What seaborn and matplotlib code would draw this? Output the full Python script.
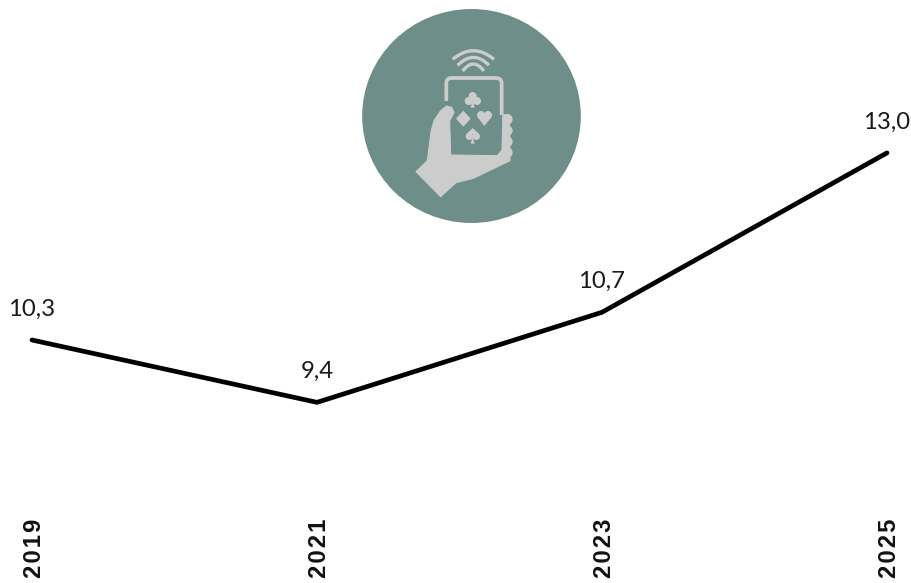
import matplotlib
matplotlib.use("Agg")
import matplotlib.pyplot as plt
from matplotlib.font_manager import FontProperties
from matplotlib.patches import Circle, Ellipse, PathPatch, Polygon
from matplotlib.path import Path
from matplotlib.transforms import ScaledTranslation
import pandas as pd
import seaborn as sns

years = ["2019", "2021", "2023", "2025"]
values = [10.3, 9.4, 10.7, 13.0]
value_labels = ["10,3", "9,4", "10,7", "13,0"]

BADGE = "#6e8e89"
ICON = "#cccccc"

sns.set_theme(style="white")
plt.rcParams["font.family"] = ["Lato", "DejaVu Sans"]

W, H = 912, 583
fig = plt.figure(figsize=(W / 100, H / 100), dpi=100, facecolor="white")

# Plot area spans the first to the last year; year labels hang below it
top_px, bottom_px = 0, 512
ax = fig.add_axes([32 / W, 1 - bottom_px / H, 855 / W, (bottom_px - top_px) / H])

df = pd.DataFrame({"position": range(len(years)), "value": values})
sns.lineplot(data=df, x="position", y="value", color="black", linewidth=3.4,
             ax=ax, legend=False)
for line in ax.get_lines():
    line.set_solid_capstyle("round")
    line.set_solid_joinstyle("round")
    line.set_clip_on(False)

ax.set_xlim(0, len(years) - 1)
px_per_unit = 69.3
ax.set_ylim(10.3 - (bottom_px - 340) / px_per_unit, 10.3 + 340 / px_per_unit)
ax.set_xticks(range(len(years)))
# Hair spaces open up the tracking of the year labels
ax.set_xticklabels(["\u200a".join(y) for y in years], rotation=90)
ax.tick_params(axis="x", length=0, pad=4.5)
nudge = ScaledTranslation(3 / 100, 0, fig.dpi_scale_trans)
year_font = FontProperties(family=["Liberation Sans", "DejaVu Sans"], weight="bold", size=17.2)
for lbl in ax.get_xticklabels():
    lbl.set_fontproperties(year_font)
    lbl.set_color("#111111")
    lbl.set_transform(lbl.get_transform() + nudge)
ax.set_yticks([])
ax.set_xlabel("")
ax.set_ylabel("")
for spine in ax.spines.values():
    spine.set_visible(False)
ax.patch.set_alpha(0)

for i, (v, label) in enumerate(zip(values, value_labels)):
    ax.annotate(label, (i, v), xytext=(0, 14.5), textcoords="offset points",
                ha="center", va="bottom", fontsize=17.2, color="#1a1a1a",
                annotation_clip=False)

# Badge with a hand holding a phone; coordinates are local to this small canvas
icon = fig.add_axes([350 / W, 1 - 230 / H, 240 / W, 230 / H], zorder=3)
icon.set_xlim(0, 720)
icon.set_ylim(690, 0)
icon.axis("off")
icon.add_patch(Ellipse((364.5, 348), 656, 642, fc=BADGE, ec="none"))


def stroke(verts, codes, width):
    icon.add_patch(PathPatch(Path(verts, codes), fc="none", ec=ICON, lw=width,
                             capstyle="butt", joinstyle="round"))


# Signal arcs
for x0, x1, y_end, y_ctrl in [(308, 432, 178, 126), (323, 417, 196, 148), (338, 402, 213, 171)]:
    stroke([(x0, y_end), (370, y_ctrl), (x1, y_end)], [Path.MOVETO, Path.CURVE3, Path.CURVE3], 2.4)

# Phone outline
stroke([(289, 303), (289, 250), (289, 234), (305, 234), (438, 234), (455, 234), (455, 250), (455, 345)],
       [Path.MOVETO, Path.LINETO, Path.CURVE3, Path.CURVE3, Path.LINETO, Path.CURVE3, Path.CURVE3, Path.LINETO],
       2.7)

# Palm and thumb
hand = [(198, 515), (272, 590), (318, 548), (370, 535), (480, 482), (478, 345), (459, 345), (456, 450),
        (442, 467), (302, 465), (299, 362), (312, 338), (305, 322), (290, 318), (272, 332),
        (252, 362), (243, 395), (232, 482)]
icon.add_patch(Polygon(hand, closed=True, fc=ICON, ec=ICON, lw=0.8, joinstyle="round"))

# Fingers curling round the phone's edge
for y in [358, 392, 425, 458]:
    icon.add_patch(Circle((472, y), 16, fc=ICON, ec="none"))

# Club
for c in [(368, 288), (356, 303), (381, 303)]:
    icon.add_patch(Circle(c, 12, fc=ICON, ec="none"))
icon.add_patch(Polygon([(368, 295), (374, 323), (362, 323)], fc=ICON, ec="none"))

# Diamond
icon.add_patch(Polygon([(340, 332), (362, 356), (340, 380), (318, 356)], fc=ICON, ec="none"))

# Heart
for c in [(393, 345), (414, 345)]:
    icon.add_patch(Circle(c, 12, fc=ICON, ec="none"))
icon.add_patch(Polygon([(382, 351), (425, 351), (403, 378)], fc=ICON, ec="none"))

# Spade
for c in [(358, 409), (379, 409)]:
    icon.add_patch(Circle(c, 11, fc=ICON, ec="none"))
icon.add_patch(Polygon([(368, 384), (388, 403), (349, 403)], fc=ICON, ec="none"))
icon.add_patch(Polygon([(368, 410), (374, 431), (362, 431)], fc=ICON, ec="none"))

fig.savefig("out.png", dpi=100)
